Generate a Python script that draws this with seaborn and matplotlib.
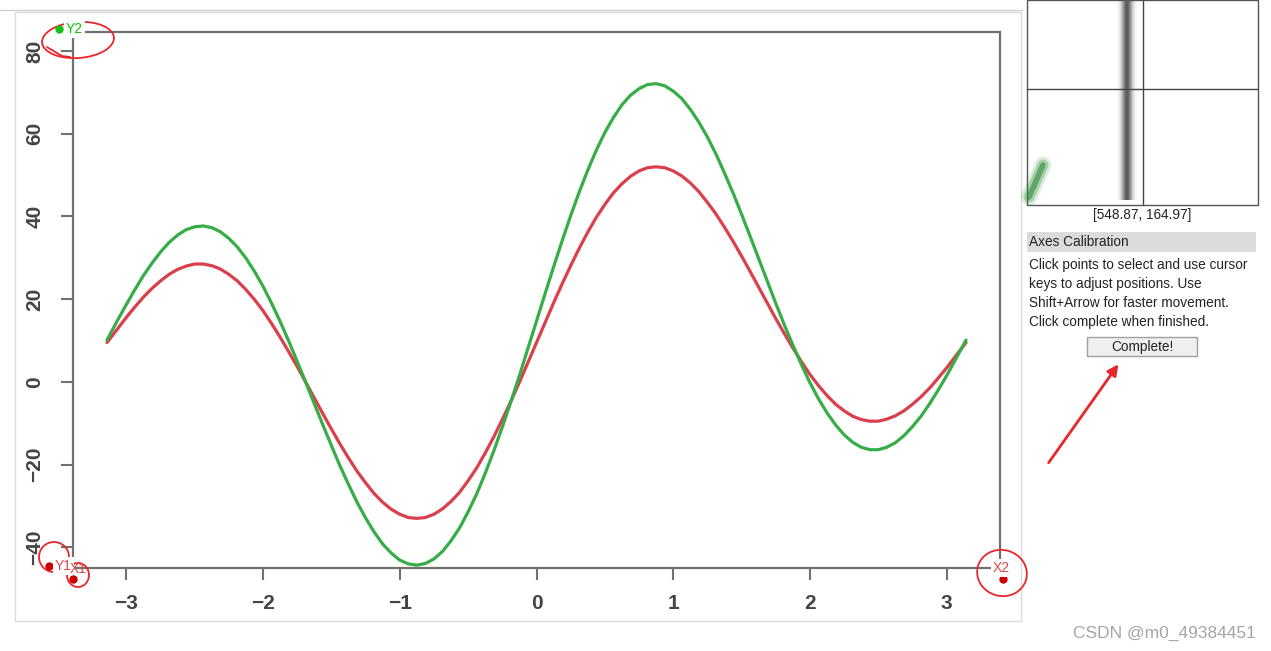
import numpy as np
import pandas as pd
import matplotlib
matplotlib.use("Agg")
import matplotlib.pyplot as plt
from matplotlib.patches import Rectangle, Ellipse, FancyArrowPatch
import seaborn as sns

# ─── Curve values ─────────────────────────────────────────────────────────────

x_vals = [-3.1416, -3.125, -3.0625, -3.0, -2.9375, -2.875, -2.8125, -2.75,
          -2.6875, -2.625, -2.5625, -2.5, -2.4375, -2.375, -2.3125, -2.25,
          -2.1875, -2.125, -2.0625, -2.0, -1.9375, -1.875, -1.8125, -1.75,
          -1.6875, -1.625, -1.5625, -1.5, -1.4375, -1.375, -1.3125, -1.25,
          -1.1875, -1.125, -1.0625, -1.0, -0.9375, -0.875, -0.8125, -0.75,
          -0.6875, -0.625, -0.5625, -0.5, -0.4375, -0.375, -0.3125, -0.25,
          -0.1875, -0.125, -0.0625, 0.0, 0.0625, 0.125, 0.1875, 0.25,
          0.3125, 0.375, 0.4375, 0.5, 0.5625, 0.625, 0.6875, 0.75,
          0.8125, 0.875, 0.9375, 1.0, 1.0625, 1.125, 1.1875, 1.25,
          1.3125, 1.375, 1.4375, 1.5, 1.5625, 1.625, 1.6875, 1.75,
          1.8125, 1.875, 1.9375, 2.0, 2.0625, 2.125, 2.1875, 2.25,
          2.3125, 2.375, 2.4375, 2.5, 2.5625, 2.625, 2.6875, 2.75,
          2.8125, 2.875, 2.9375, 3.0, 3.0625, 3.125, 3.1416]

red_vals = [9.5, 10.2, 12.9, 15.6, 18.1, 20.5, 22.6, 24.4,
            26.0, 27.2, 28.0, 28.5, 28.5, 28.1, 27.3, 26.0,
            24.4, 22.3, 19.9, 17.2, 14.1, 10.8, 7.3, 3.7,
            -0.1, -3.9, -7.7, -11.4, -15.0, -18.4, -21.6, -24.4,
            -27.0, -29.1, -30.8, -32.0, -32.8, -33.0, -32.8, -32.0,
            -30.7, -28.9, -26.7, -23.9, -20.8, -17.2, -13.3, -9.1,
            -4.7, -0.1, 4.7, 9.5, 14.3, 19.1, 23.7, 28.1,
            32.3, 36.2, 39.8, 42.9, 45.7, 47.9, 49.7, 51.0,
            51.8, 52.0, 51.8, 51.0, 49.8, 48.1, 46.0, 43.4,
            40.6, 37.4, 34.0, 30.4, 26.7, 22.9, 19.1, 15.3,
            11.7, 8.2, 4.9, 1.8, -0.9, -3.3, -5.4, -7.0,
            -8.3, -9.1, -9.5, -9.5, -9.0, -8.2, -7.0, -5.4,
            -3.6, -1.5, 0.9, 3.4, 6.1, 8.8, 9.5]

green_vals = [10.1, 11.1, 15.0, 18.7, 22.3, 25.7, 28.7, 31.4,
              33.7, 35.5, 36.8, 37.5, 37.7, 37.3, 36.3, 34.7,
              32.6, 29.9, 26.7, 23.1, 19.0, 14.6, 9.9, 4.9,
              -0.1, -5.3, -10.4, -15.4, -20.3, -24.8, -29.1, -32.9,
              -36.3, -39.2, -41.4, -43.1, -44.0, -44.3, -43.9, -42.8,
              -41.0, -38.4, -35.3, -31.4, -27.1, -22.1, -16.7, -10.9,
              -4.8, 1.5, 8.1, 14.7, 21.3, 27.8, 34.1, 40.2,
              45.9, 51.2, 56.0, 60.3, 63.9, 67.0, 69.3, 70.9,
              71.9, 72.1, 71.6, 70.3, 68.5, 65.9, 62.8, 59.2,
              55.1, 50.5, 45.7, 40.5, 35.2, 29.8, 24.4, 19.0,
              13.8, 8.9, 4.2, -0.2, -4.1, -7.5, -10.4, -12.8,
              -14.6, -15.8, -16.4, -16.4, -15.8, -14.7, -13.0, -10.8,
              -8.3, -5.3, -2.0, 1.5, 5.3, 9.1, 10.1]

x_ticks = [-3, -2, -1, 0, 1, 2, 3]
y_ticks = [-40, -20, 0, 20, 40, 60, 80]

coord_readout = "[548.87, 164.97]"
panel_title = "Axes Calibration"
help_lines = ["Click points to select and use cursor",
              "keys to adjust positions. Use",
              "Shift+Arrow for faster movement.",
              "Click complete when finished."]
button_text = "Complete!"
watermark = "CSDN @m0_49384451"

W, H = 1271, 651
RED, GREEN = "#d9404b", "#37ad47"
AXIS_GREY = "#707070"


def px_axes(fig, zorder):
    """Full-figure axes in screen pixels (origin top-left)."""
    a = fig.add_axes([0, 0, 1, 1], zorder=zorder)
    a.set_xlim(0, W)
    a.set_ylim(H, 0)
    a.axis("off")
    a.patch.set_visible(False)
    return a


sns.set_theme(style="white")
plt.rcParams["font.family"] = ["Liberation Sans", "DejaVu Sans"]

fig = plt.figure(figsize=(W / 100, H / 100), dpi=100)
fig.patch.set_facecolor("white")

# ─── Background: screenshot frame + side panel ───────────────────────────────
bg = px_axes(fig, 0)
bg.plot([0, 1022], [10, 10], color="#d0d0d0", lw=1)
bg.add_patch(Rectangle((15, 12), 1006, 609, fill=False, ec="#dadada", lw=1))

# magnifier
bg.add_patch(Rectangle((1027, 0), 231, 205, fc="white", ec="#555555", lw=1))
prof = np.exp(-((np.linspace(-1, 1, 40)) ** 2) / 0.2)
bar = np.ones((1, 40, 4))
bar[..., :3] = 0.35
bar[..., 3] = prof
bg.imshow(bar, extent=(1115, 1139, 200, 0), aspect="auto", zorder=2,
          interpolation="bilinear")
for lw, al in [(12, 0.15), (8, 0.3), (4, 0.6)]:
    bg.plot([1029, 1043], [197, 165], color="#2e8b3a", lw=lw, alpha=al,
            solid_capstyle="round", zorder=2)
bg.plot([1027, 1258], [89, 89], color="#444444", lw=1, zorder=3)
bg.plot([1143, 1143], [0, 205], color="#444444", lw=1, zorder=3)

txt = dict(fontsize=9.8, color="#222222")
bg.text(1142, 215, coord_readout, ha="center", va="center", **txt)
bg.add_patch(Rectangle((1027, 232), 229, 20, fc="#dcdcdc", ec="none"))
bg.text(1029, 242, panel_title, ha="left", va="center", **txt)
for i, line in enumerate(help_lines):
    bg.text(1029, 265 + i * 19, line, ha="left", va="center", **txt)
bg.add_patch(Rectangle((1087, 337), 110, 19, fc="#efefef", ec="#a0a0a0", lw=1))
bg.text(1142, 347, button_text, ha="center", va="center", **txt)
bg.text(1256, 633, watermark, ha="right", va="center", fontsize=12.5,
        color="#a5a5a5")

# ─── Main R-style chart ──────────────────────────────────────────────────────
ax = fig.add_axes([73 / W, 1 - 568 / H, 927 / W, 536 / H], zorder=1)
ax.set_facecolor("white")
line_kw = dict(lw=2.3, ax=ax, sort=False, solid_joinstyle="round")
sns.lineplot(x=x_vals, y=red_vals, color=RED, **line_kw)
sns.lineplot(x=x_vals, y=green_vals, color=GREEN, **line_kw)
ax.set_xlim(-3.39, 3.39)
ax.set_ylim(-45.0, 84.6)
ax.set_xticks(x_ticks)
ax.set_yticks(y_ticks)
ax.set_xlabel("")
ax.set_ylabel("")
for s in ax.spines.values():
    s.set_visible(True)
    s.set_color(AXIS_GREY)
    s.set_linewidth(1.6)
ax.tick_params(bottom=True, left=True, direction="out", length=8.5,
               width=1.5, color=AXIS_GREY, labelsize=15,
               labelcolor="#444444")
ax.tick_params(axis="x", pad=10)
ax.tick_params(axis="y", pad=12)
for lab in ax.get_xticklabels():
    lab.set_fontweight("bold")
for lab in ax.get_yticklabels():
    lab.set_fontweight("bold")
    lab.set_rotation(90)
    lab.set_va("center")

# ─── Calibration markers and red annotations ─────────────────────────────────
top = px_axes(fig, 2)
box = dict(facecolor="white", edgecolor="none", pad=1.5)
top.plot([59], [29], "o", color="#11c411", ms=5)
top.text(66, 29, "Y2", color="#11c411", fontsize=10, va="center", bbox=box)
top.plot([49], [566], "o", color="#cc0000", ms=5)
top.text(55, 566, "Y1", color="#d84a4a", fontsize=10, va="center", bbox=box)
top.plot([73], [579], "o", color="#cc0000", ms=5)
top.text(70, 569, "X1", color="#d84a4a", fontsize=10, va="center")
top.text(993, 568, "X2", color="#d84a4a", fontsize=10, va="center", bbox=box)
top.plot([1003], [579], "o", color="#cc0000", ms=5)

ink = "#e8262b"
top.add_patch(Ellipse((78, 40), 72, 36, angle=-4, fill=False, ec=ink, lw=1.3))
top.plot([47, 62, 70], [47, 56, 57], color=ink, lw=1.3)
top.add_patch(Ellipse((54, 557), 30, 30, fill=False, ec=ink, lw=1.3))
top.add_patch(Ellipse((78, 575), 22, 24, fill=False, ec=ink, lw=1.3))
top.add_patch(Ellipse((1002, 573), 50, 46, angle=15, fill=False, ec=ink, lw=1.3))
top.add_patch(FancyArrowPatch((1047, 465), (1120, 362), arrowstyle="-|>",
                              mutation_scale=16, color=ink, lw=2))

fig.savefig("out.png", dpi=100)
